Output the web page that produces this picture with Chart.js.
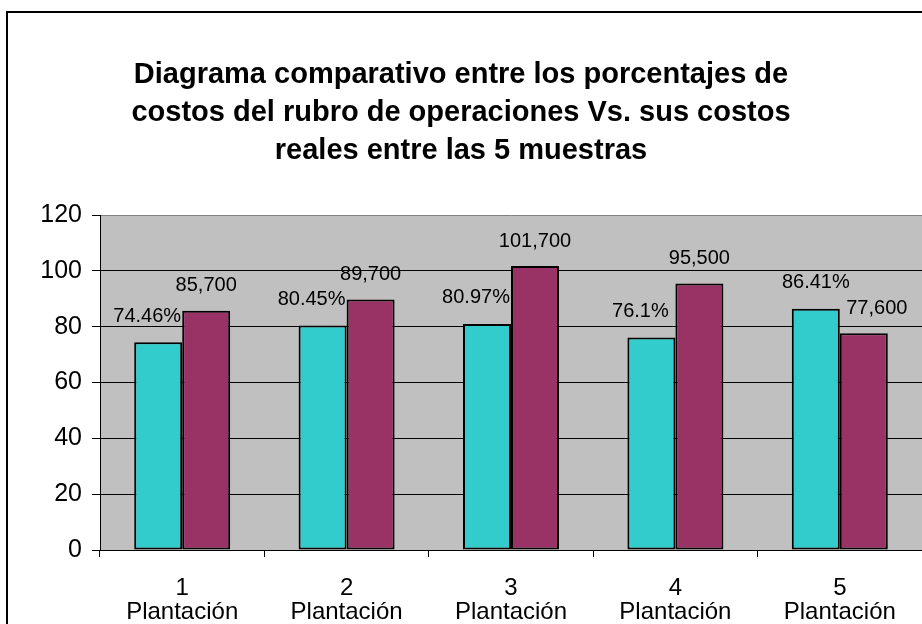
<!DOCTYPE html>
<html>
<head>
<meta charset="utf-8">
<script src="https://cdn.jsdelivr.net/npm/chart.js@4/dist/chart.umd.min.js"></script>
<style>
  html, body { margin: 0; padding: 0; background: #fff; overflow: hidden; }
  canvas { display: block; }
</style>
</head>
<body>
<canvas id="chart" width="922" height="624"></canvas>
<script>
// chart values
var titleLines = [
  'Diagrama comparativo entre los porcentajes de',
  'costos del rubro de operaciones Vs. sus costos',
  'reales entre las 5 muestras'
];
var categories = [['1', 'Plantación'], ['2', 'Plantación'], ['3', 'Plantación'], ['4', 'Plantación'], ['5', 'Plantación']];
var percentages = [74.46, 80.45, 80.97, 76.1, 86.41];
var realCosts = [85700, 89700, 101700, 95500, 77600];
var yTicks = [0, 20, 40, 60, 80, 100, 120];

var FONT = "'Liberation Sans', Arial, sans-serif";

// gray plot area + the outer frame
var backdrop = {
  id: 'backdrop',
  beforeDraw: function (chart) {
    var ctx = chart.ctx, a = chart.chartArea;
    ctx.save();
    ctx.fillStyle = '#fff';
    ctx.fillRect(0, 0, chart.width, chart.height);
    ctx.fillStyle = '#c0c0c0';
    ctx.fillRect(a.left, a.top, a.right - a.left, a.bottom - a.top);
    ctx.strokeStyle = '#000';
    ctx.lineWidth = 2;
    ctx.strokeRect(7, 12, 2000, 2000);
    ctx.restore();
  }
};

// value labels above the bars, nudged sideways when the neighbour is taller
var valueLabels = {
  id: 'valueLabels',
  afterDatasetsDraw: function (chart) {
    var ctx = chart.ctx;
    var m0 = chart.getDatasetMeta(0), m1 = chart.getDatasetMeta(1);
    ctx.save();
    ctx.font = '20px ' + FONT;
    ctx.fillStyle = '#000';
    ctx.textAlign = 'center';
    ctx.textBaseline = 'middle';
    for (var i = 0; i < categories.length; i++) {
      var b0 = m0.data[i], b1 = m1.data[i];
      var dx0 = b1.y < b0.y ? -11 : 0;
      var dx1 = b0.y < b1.y ? 13 : 0;
      ctx.fillText(percentages[i] + '%', b0.x + dx0, b0.y - 26);
      ctx.fillText(realCosts[i].toLocaleString('en-US'), b1.x + dx1, b1.y - 25);
    }
    ctx.restore();
  }
};

new Chart(document.getElementById('chart'), {
  type: 'bar',
  data: {
    labels: categories,
    datasets: [{
      label: 'Porcentaje',
      data: percentages,
      backgroundColor: '#33cccc',
      borderColor: '#000',
      borderWidth: 2,
      borderSkipped: false
    }, {
      label: 'Costo real',
      data: realCosts.map(function (v) { return v / 1000; }),
      backgroundColor: '#993366',
      borderColor: '#000',
      borderWidth: 2,
      borderSkipped: false
    }]
  },
  options: {
    responsive: false,
    animation: false,
    devicePixelRatio: 1,
    categoryPercentage: 0.584,
    barPercentage: 1,
    layout: { padding: { left: 0, right: 0, top: 0, bottom: 0 } },
    plugins: {
      legend: { display: false },
      tooltip: { enabled: false },
      title: {
        display: true,
        text: titleLines,
        color: '#000',
        font: { family: FONT, size: 29, weight: 'bold', lineHeight: 38 / 29 },
        padding: { top: 56, bottom: 45 }
      }
    },
    scales: {
      x: {
        grid: {
          offset: true,
          drawOnChartArea: false,
          drawTicks: true,
          tickLength: 7,
          color: '#000'
        },
        border: { color: '#000', width: 1 },
        ticks: {
          color: '#000',
          padding: 19,
          maxRotation: 0,
          font: { family: FONT, size: 24, lineHeight: 1 }
        },
        afterFit: function (s) { s.height = 74; }
      },
      y: {
        min: 0,
        max: 120,
        afterBuildTicks: function (s) {
          s.ticks = yTicks.map(function (v) { return { value: v }; });
        },
        grid: {
          color: function (c) { return c.tick && c.tick.value === 120 ? '#808080' : '#000'; },
          tickColor: '#000',
          tickLength: 8,
          lineWidth: 1
        },
        border: { color: '#000', width: 1 },
        ticks: {
          color: '#000',
          padding: 10,
          font: { family: FONT, size: 25 }
        },
        afterFit: function (s) { s.width = 100; }
      }
    }
  },
  plugins: [backdrop, valueLabels]
});
</script>
</body>
</html>
